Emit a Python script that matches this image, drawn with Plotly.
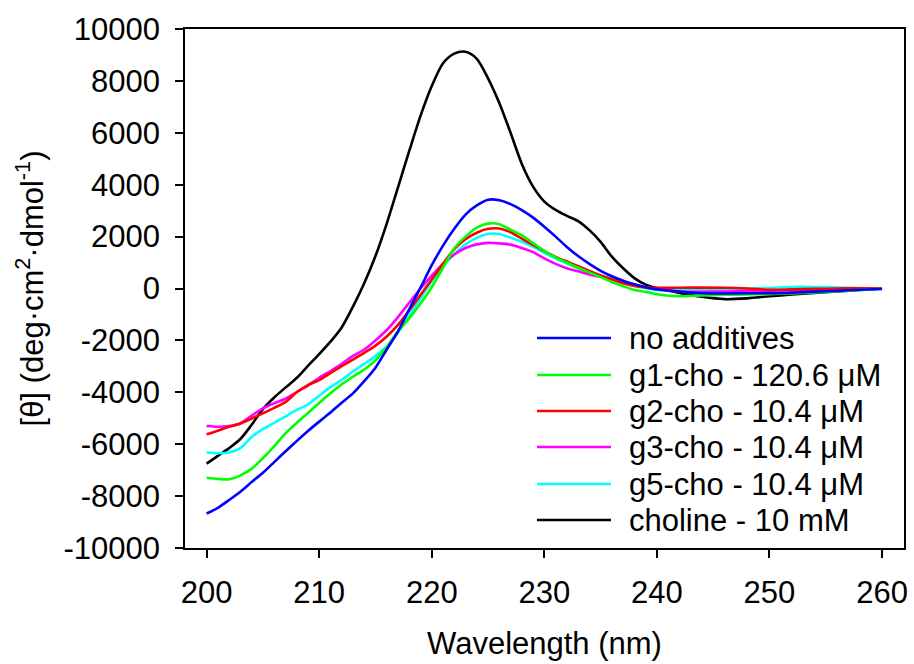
import plotly.graph_objects as go

# wavelength grid (nm)
wavelength = list(range(200, 241)) + list(range(242, 261, 2))

no_additives = [-8670, -8450, -8150, -7830, -7460, -7100, -6690, -6280, -5880, -5490,
                -5130, -4780, -4400, -4040, -3570, -3050, -2350, -1650, -800, 30,
                900, 1650, 2300, 2850, 3200, 3420, 3400, 3250, 3020, 2730,
                2380, 2000, 1600, 1250, 950, 680, 470, 300, 160, 50,
                -30, -120, -185, -190, -185, -180, -160, -120, -90, -50, -20]
g1_cho = [-7295, -7340, -7350, -7200, -6950, -6540, -6080, -5580, -5180, -4800,
          -4410, -4040, -3690, -3400, -3120, -2770, -2250, -1650, -1150, -580,
          50, 800, 1550, 2000, 2350, 2500, 2480, 2270, 2050, 1750,
          1450, 1200, 1000, 800, 620, 440, 250, 90, -60, -130,
          -220, -300, -270, -240, -230, -215, -190, -150, -115, -60, -10]
g2_cho = [-5620, -5480, -5330, -5200, -5010, -4810, -4600, -4380, -4000, -3720,
          -3530, -3260, -2990, -2740, -2480, -2200, -1850, -1400, -850, -250,
          350, 950, 1520, 1900, 2150, 2300, 2310, 2170, 1920, 1680,
          1440, 1220, 1040, 860, 680, 500, 350, 200, 100, 50,
          30, 30, 35, 30, 0, -50, -35, -15, 0, 5, 0]
g3_cho = [-5300, -5330, -5300, -5200, -4900, -4620, -4420, -4250, -3990, -3740,
          -3440, -3180, -2900, -2600, -2350, -2000, -1600, -1100, -550, 0,
          500, 960, 1310, 1560, 1700, 1760, 1740, 1690, 1560, 1400,
          1160, 950, 780, 660, 540, 450, 370, 270, 150, 40,
          -30, -120, -125, -115, -100, -85, -70, -60, -50, -30, 0]
g5_cho = [-6320, -6350, -6320, -6150, -5720, -5420, -5180, -4930, -4680, -4470,
          -4130, -3800, -3520, -3200, -2900, -2600, -2245, -1700, -1050, -380,
          270, 850, 1320, 1700, 1950, 2100, 2100, 1960, 1800, 1610,
          1370, 1150, 960, 780, 620, 500, 390, 260, 110, 10,
          -60, -60, -55, -30, 0, 20, 60, 60, 40, 20, 0]
choline = [-6750, -6450, -6150, -5800, -5250, -4650, -4200, -3820, -3450, -2980,
           -2530, -2050, -1500, -700, 200, 1250, 2500, 3900, 5300, 6650,
           7800, 8680, 9050, 9120, 8850, 8100, 7150, 6000, 4800, 3925,
           3350, 3030, 2800, 2600, 2250, 1800, 1226, 780, 400, 150,
           20, -170, -320, -410, -380, -300, -230, -170, -110, -60, 0]

names = ["no additives", "g1-cho - 120.6 \u03bcM", "g2-cho - 10.4 \u03bcM",
         "g3-cho - 10.4 \u03bcM", "g5-cho - 10.4 \u03bcM", "choline - 10 mM"]
colors = ["#0000FF", "#00FF00", "#FF0000", "#FF00FF", "#00FFFF", "#000000"]
series = [no_additives, g1_cho, g2_cho, g3_cho, g5_cho, choline]

x_ticks = [200, 210, 220, 230, 240, 250, 260]
y_ticks = [-10000, -8000, -6000, -4000, -2000, 0, 2000, 4000, 6000, 8000, 10000]
y_ticktext = [str(v) for v in y_ticks]  # plain hyphen minus like the original

font = dict(family="Liberation Sans, Arial, sans-serif", size=31, color="black")

fig = go.Figure()
# black first so the coloured lines sit on top
for name, color, vals in list(zip(names, colors, series))[::-1]:
    fig.add_trace(go.Scatter(x=wavelength, y=vals, mode="lines", name=name,
                             line=dict(color=color, width=2.6, shape="spline", smoothing=0.8)))

# hand made legend (long line samples like the original)
leg_y = [338, 375, 411, 447, 484, 520]
top, bottom, left, right = 29, 548, 185, 904
for name, color, py in zip(names, colors, leg_y):
    yp = (bottom - py) / (bottom - top)
    fig.add_shape(type="line", xref="paper", yref="paper",
                  x0=(537 - left) / (right - left), x1=(611 - left) / (right - left),
                  y0=yp, y1=yp, line=dict(color=color, width=2.6))
    fig.add_annotation(text=name, xref="paper", yref="paper",
                       x=(627 - left) / (right - left), y=yp, xanchor="left", yanchor="middle",
                       showarrow=False, font=font)

fig.update_layout(
    template="none",
    width=914, height=664,
    margin=dict(l=left, r=914 - right, t=top, b=664 - bottom),
    paper_bgcolor="white", plot_bgcolor="white",
    showlegend=False, font=font,
)
fig.update_xaxes(range=[198.08, 261.95], tickvals=x_ticks, automargin=False,
                 showline=True, linecolor="black", linewidth=1.5, mirror=True,
                 ticks="outside", ticklen=8, tickwidth=1.5, tickcolor="black",
                 showgrid=False, zeroline=False, ticklabelstandoff=8,
                 title=dict(text="Wavelength (nm)", font=font, standoff=23))
fig.update_yaxes(range=[-10000, 10000], tickvals=y_ticks, ticktext=y_ticktext, automargin=False,
                 showline=True, linecolor="black", linewidth=1.5, mirror=True,
                 ticks="outside", ticklen=8, tickwidth=1.5, tickcolor="black",
                 showgrid=False, zeroline=False, ticklabelstandoff=9,
                 title=dict(text="[\u03b8] (deg\u00b7cm<sup>2</sup>\u00b7dmol<sup>-1</sup>)",
                            font=font, standoff=11))

# drop the default page margin so the figure sits at the window corner
fig.write_html("out.html", config={"displayModeBar": False},
               post_script="document.body.style.margin='0';")
